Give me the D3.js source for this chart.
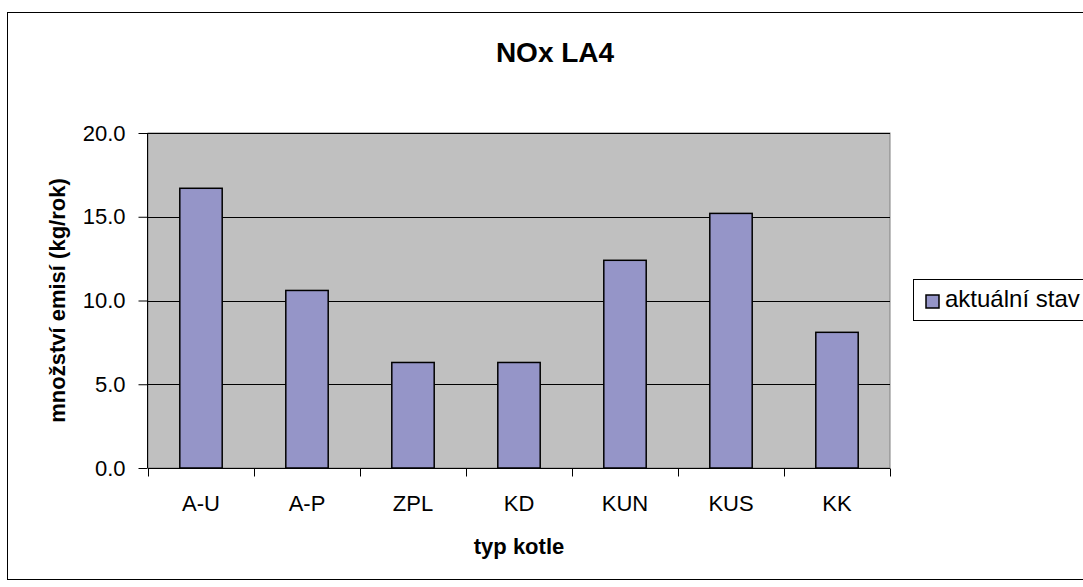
<!DOCTYPE html>
<html><head><meta charset="utf-8">
<script src="https://cdn.jsdelivr.net/npm/d3@7"></script>
<style>body{margin:0;background:#fff}svg{display:block;font-family:"Liberation Sans",Arial,sans-serif}</style>
</head><body><svg id="c" width="1083" height="587"></svg>
<script>
const categories = ["A-U","A-P","ZPL","KD","KUN","KUS","KK"];
const values = [16.7, 10.6, 6.3, 6.3, 12.4, 15.2, 8.1];
const yTicks = [0, 5, 10, 15, 20];
const seriesName = "aktuální stav";
const title = "NOx LA4";
const xTitle = "typ kotle";
const yTitle = "množství emisí (kg/rok)";

const svg = d3.select("#c");
svg.append("rect").attr("x",7.5).attr("y",12.5).attr("width",1100).attr("height",567)
  .attr("fill","#fff").attr("stroke","#000").attr("stroke-width",1);

const L=148, R=890, T=133, B=468;
const x = d3.scaleBand().domain(categories).range([L,R]).paddingInner(0).paddingOuter(0);
const y = d3.scaleLinear().domain([0,20]).range([B,T]);

svg.append("rect").attr("x",L).attr("y",T).attr("width",R-L).attr("height",B-T)
  .attr("fill","#c0c0c0").attr("stroke","#808080").attr("stroke-width",1);

svg.append("g").selectAll("line").data(yTicks.filter(d=>d>0)).join("line")
  .attr("x1",L).attr("x2",R).attr("y1",d=>Math.round(y(d))+0.5).attr("y2",d=>Math.round(y(d))+0.5)
  .attr("stroke","#000").attr("stroke-width",1);

const bw = x.bandwidth()/2.5;
svg.append("g").selectAll("rect").data(values).join("rect")
  .attr("x",(d,i)=>x(categories[i])+(x.bandwidth()-bw)/2)
  .attr("y",d=>y(d)).attr("width",bw).attr("height",d=>B-y(d))
  .attr("fill","#9595c8").attr("stroke","#000").attr("stroke-width",1.5);

const FF = "Liberation Sans, Arial, sans-serif";
// y axis
const ya = svg.append("g").attr("transform",`translate(${L-0.5},0)`)
  .call(d3.axisLeft(y).tickValues(yTicks).tickFormat(d3.format(".1f")).tickSize(9).tickPadding(13));
ya.select(".domain").attr("stroke","#000").attr("d",`M0,${T}V${B}`);
ya.selectAll("text").attr("font-size",22).attr("fill","#000").attr("font-family",FF);

// x axis
const xa = svg.append("g").attr("transform",`translate(0,${B+0.5})`)
  .call(d3.axisBottom(x).tickSize(0).tickPadding(27));
xa.select(".domain").attr("stroke","#000").attr("d",`M${L},0H${R}`);
xa.selectAll("text").attr("font-size",22).attr("fill","#000").attr("font-family",FF);
const bounds = categories.map(c=>x(c)).concat([R]);
xa.append("g").selectAll("line").data(bounds).join("line")
  .attr("x1",d=>Math.round(d)+0.5).attr("x2",d=>Math.round(d)+0.5).attr("y1",0).attr("y2",8).attr("stroke","#000");

svg.append("text").attr("x",555).attr("y",62).attr("text-anchor","middle")
  .attr("font-size",28).attr("font-weight","bold").text(title);
svg.append("text").attr("x",519).attr("y",554).attr("text-anchor","middle")
  .attr("font-size",22).attr("font-weight","bold").text(xTitle);
svg.append("text").attr("transform",`translate(65,${(T+B)/2}) rotate(-90)`).attr("text-anchor","middle")
  .attr("font-size",22).attr("font-weight","bold").text(yTitle);

// legend
const lg = svg.append("g");
lg.append("rect").attr("x",913.5).attr("y",279.5).attr("width",200).attr("height",41)
  .attr("fill","#fff").attr("stroke","#000");
lg.append("rect").attr("x",926).attr("y",295).attr("width",13).attr("height",13)
  .attr("fill","#9595c8").attr("stroke","#000").attr("stroke-width",1.5);
lg.append("text").attr("x",945).attr("y",307).attr("font-size",24).text(seriesName);
</script></body></html>
